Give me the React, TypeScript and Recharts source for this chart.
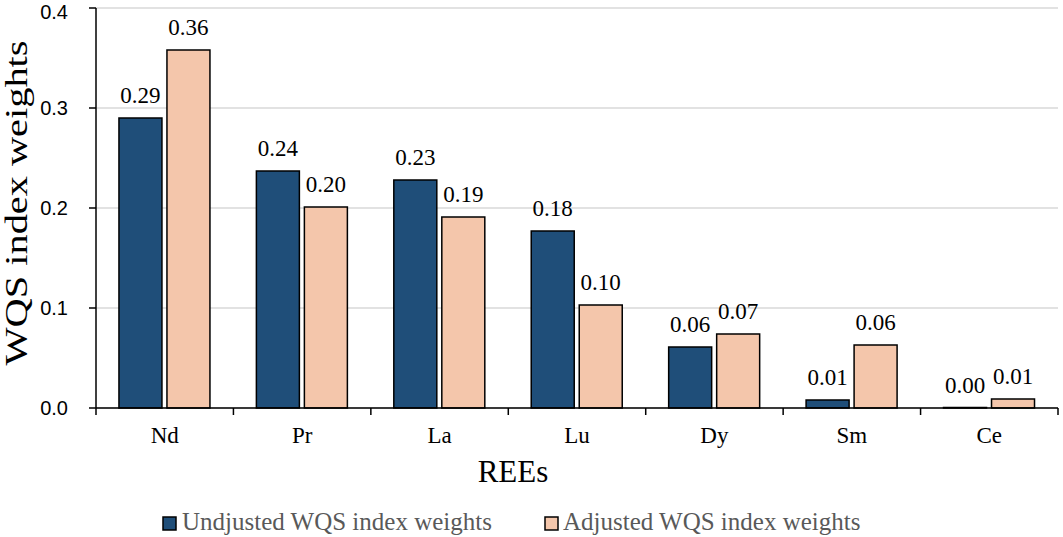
import { Bar, BarChart, CartesianGrid, LabelList, XAxis, YAxis, Label } from "recharts";

const CATEGORIES = ["Nd", "Pr", "La", "Lu", "Dy", "Sm", "Ce"];
const UNADJUSTED = [0.29, 0.237, 0.228, 0.177, 0.061, 0.008, 0.0004];
const ADJUSTED = [0.358, 0.201, 0.191, 0.103, 0.074, 0.063, 0.009];
const Y_TICKS = [0, 0.1, 0.2, 0.3, 0.4];

const BLUE = "#1f4e79";
const PEACH = "#f4c6ab";
const SERIF = "Liberation Serif";
const SANS = "Liberation Sans";

const W = 1063;
const H = 537;
const PLOT_LEFT = 96;
const PLOT_RIGHT = 1058;
const PLOT_BOTTOM = 408;
const BAND = (PLOT_RIGHT - PLOT_LEFT) / CATEGORIES.length;

const data = CATEGORIES.map((name, i) => ({
  name,
  unadjusted: UNADJUSTED[i],
  adjusted: ADJUSTED[i],
}));

function CategoryTick(props: any) {
  const { x, payload, index } = props;
  return (
    <g>
      <line x1={x - BAND / 2} x2={x - BAND / 2} y1={PLOT_BOTTOM} y2={PLOT_BOTTOM + 7} stroke="#000" strokeWidth={1.5} />
      {index === CATEGORIES.length - 1 && (
        <line x1={x + BAND / 2} x2={x + BAND / 2} y1={PLOT_BOTTOM} y2={PLOT_BOTTOM + 7} stroke="#000" strokeWidth={1.5} />
      )}
      <text x={x} y={443} textAnchor="middle" style={{ fontFamily: SERIF }} fontSize={23} fill="#000">
        {payload.value}
      </text>
    </g>
  );
}

const fmt2 = (v: any) => Number(v).toFixed(2);

export default function App() {
  return (
    <div style={{ position: "relative", width: W, height: H, background: "#fff" }}>
      <style>{`body{margin:0}`}</style>
      <BarChart
        width={W}
        height={H}
        data={data}
        margin={{ top: 8, right: W - PLOT_RIGHT, bottom: 0, left: 0 }}
        barCategoryGap="16.7%"
        barGap={5}
      >
        <CartesianGrid vertical={false} stroke="#d9d9d9" strokeWidth={1.5} />
        <XAxis
          dataKey="name"
          height={H - PLOT_BOTTOM}
          axisLine={{ stroke: "#000", strokeWidth: 1.5 }}
          tickLine={false}
          tick={<CategoryTick />}
          interval={0}
        >
          <Label
            content={() => (
              <text x={513} y={482} textAnchor="middle" style={{ fontFamily: SERIF }} fontSize={31} fill="#000">
                REEs
              </text>
            )}
          />
        </XAxis>
        <YAxis
          width={PLOT_LEFT}
          domain={[0, 0.4]}
          ticks={Y_TICKS}
          tickFormatter={(v: number) => v.toFixed(1)}
          axisLine={{ stroke: "#000", strokeWidth: 1.5 }}
          tickLine={{ stroke: "#000", strokeWidth: 1.5 }}
          tickSize={7}
          tickMargin={21}
          tick={{ fontFamily: SANS, fontSize: 20, fill: "#000" }}
        >
          <Label
            content={() => (
              <text
                x={27}
                y={203}
                transform="rotate(-90 27 203)"
                textAnchor="middle"
                style={{ fontFamily: SERIF }}
                fontSize={31}
                textLength={325}
                lengthAdjust="spacingAndGlyphs"
                fill="#000"
              >
                WQS index weights
              </text>
            )}
          />
        </YAxis>
        <Bar dataKey="unadjusted" fill={BLUE} stroke="#000" strokeWidth={1.5} isAnimationActive={false}>
          <LabelList dataKey="unadjusted" position="top" offset={15} formatter={fmt2} style={{ fontFamily: SERIF }} fontSize={23} fill="#000" />
        </Bar>
        <Bar dataKey="adjusted" fill={PEACH} stroke="#000" strokeWidth={1.5} isAnimationActive={false}>
          <LabelList dataKey="adjusted" position="top" offset={15} formatter={fmt2} style={{ fontFamily: SERIF }} fontSize={23} fill="#000" />
        </Bar>
      </BarChart>
      <svg width={W} height={40} style={{ position: "absolute", left: 0, top: 505 }}>
        <rect x={163} y={12} width={13} height={13} fill={BLUE} stroke="#000" strokeWidth={1.5} />
        <text x={182} y={25} style={{ fontFamily: SERIF }} fontSize={25} fill="#595959">
          Undjusted WQS index weights
        </text>
        <rect x={545} y={12} width={13} height={13} fill={PEACH} stroke="#000" strokeWidth={1.5} />
        <text x={563} y={25} style={{ fontFamily: SERIF }} fontSize={25} fill="#595959">
          Adjusted WQS index weights
        </text>
      </svg>
    </div>
  );
}
